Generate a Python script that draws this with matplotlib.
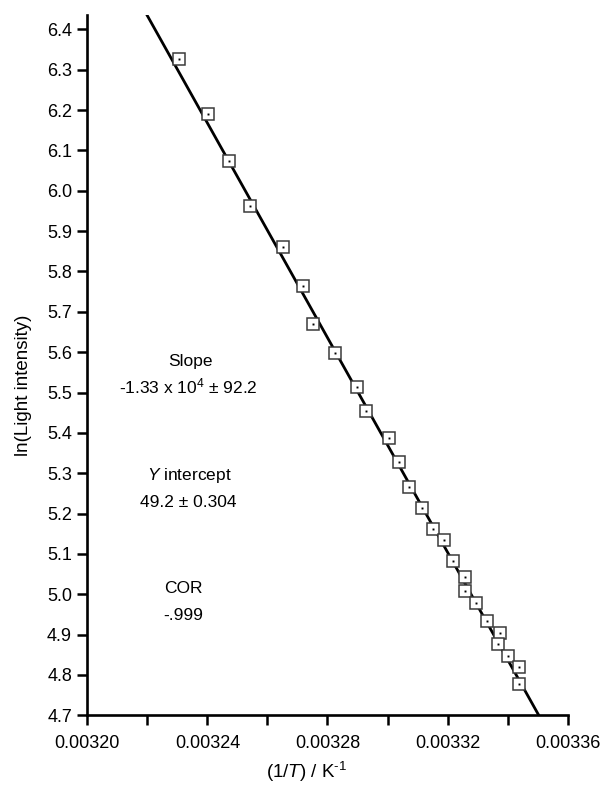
import numpy as np
import matplotlib
matplotlib.use('Agg')
import matplotlib.pyplot as plt
from matplotlib.ticker import MultipleLocator, FormatStrFormatter

# 1/T values (K^-1) and ln(light intensity)
inv_T = [0.0032305, 0.0032401, 0.0032471, 0.0032542, 0.0032652, 0.0032717,
         0.0032753, 0.0032825, 0.0032897, 0.0032929, 0.0033004, 0.0033037,
         0.0033072, 0.0033115, 0.0033150, 0.0033187, 0.0033219, 0.0033258,
         0.0033258, 0.0033294, 0.0033331, 0.0033375, 0.0033369, 0.0033402,
         0.0033439, 0.0033439]
ln_I = [6.326, 6.191, 6.073, 5.962, 5.861, 5.765,
        5.671, 5.599, 5.513, 5.454, 5.388, 5.327,
        5.267, 5.214, 5.163, 5.135, 5.082, 5.043,
        5.007, 4.978, 4.935, 4.903, 4.876, 4.847,
        4.819, 4.778]

# fitted line
fit_slope = -1.33e4
fit_intercept = 49.26

x_ticks = [0.00320, 0.00324, 0.00328, 0.00332, 0.00336]

plt.rcParams['font.family'] = ['Liberation Sans', 'DejaVu Sans']
plt.rcParams['mathtext.fontset'] = 'custom'
plt.rcParams['mathtext.rm'] = 'Liberation Sans'
plt.rcParams['mathtext.it'] = 'Liberation Sans:italic'

fig = plt.figure(figsize=(6.04, 8.07), dpi=100)
ax = fig.add_axes([0.1445, 0.1136, 0.7954, 0.8678])

# regression line
xl = np.array([0.00321, 0.00336])
ax.plot(xl, fit_slope * xl + fit_intercept, color='black', lw=2.0, zorder=2)

# data: open squares with a dot in the middle
ax.plot(inv_T, ln_I, ls='none', marker='s', ms=8.3, mfc='white', mec='#3a3a3a',
        mew=1.1, zorder=3)
ax.plot(inv_T, ln_I, ls='none', marker='s', ms=1.4, mfc='black', mec='black',
        mew=0, zorder=4)

ax.set_xlim(0.00320, 0.00336)
ax.set_ylim(4.7, 6.4356)
ax.set_xticks(x_ticks)
ax.xaxis.set_major_formatter(FormatStrFormatter('%.5f'))
ax.xaxis.set_minor_locator(MultipleLocator(0.00002))
ax.yaxis.set_major_locator(MultipleLocator(0.1))
ax.yaxis.set_major_formatter(FormatStrFormatter('%.1f'))

for side in ['top', 'right']:
    ax.spines[side].set_visible(False)
for side in ['left', 'bottom']:
    ax.spines[side].set_linewidth(1.9)

ax.tick_params(axis='both', which='both', direction='out', length=7, width=1.8,
               labelsize=13, color='black')
ax.tick_params(axis='x', which='both', pad=7)
ax.tick_params(axis='y', pad=4)

# axis labels
ax.text(-0.133, 0.4717, 'ln(Light intensity)', transform=ax.transAxes,
        rotation=90, ha='center', va='center', fontsize=13.5)
ax.text(0.457, -0.081, r'(1/$\mathit{T}$) / K$^{\text{-1}}$', transform=ax.transAxes,
        ha='center', va='center', fontsize=13.5)

# fit statistics
ax.text(0.2138, 0.4988, 'Slope', transform=ax.transAxes, ha='center',
        va='baseline', fontsize=12.5)
ax.text(0.2107, 0.4602, r'-1.33 x 10$^{4}$ ± 92.2', transform=ax.transAxes,
        ha='center', va='baseline', fontsize=12.5)
ax.text(0.212, 0.3360, r'$\mathit{Y}$ intercept', transform=ax.transAxes,
        ha='center', va='baseline', fontsize=12.5)
ax.text(0.2096, 0.2975, '49.2 ± 0.304', transform=ax.transAxes, ha='center',
        va='baseline', fontsize=12.5)
ax.text(0.199, 0.1746, 'COR', transform=ax.transAxes, ha='center',
        va='baseline', fontsize=12.5)
ax.text(0.199, 0.1361, '-.999', transform=ax.transAxes, ha='center',
        va='baseline', fontsize=12.5)

fig.savefig('out.png', dpi=100)
